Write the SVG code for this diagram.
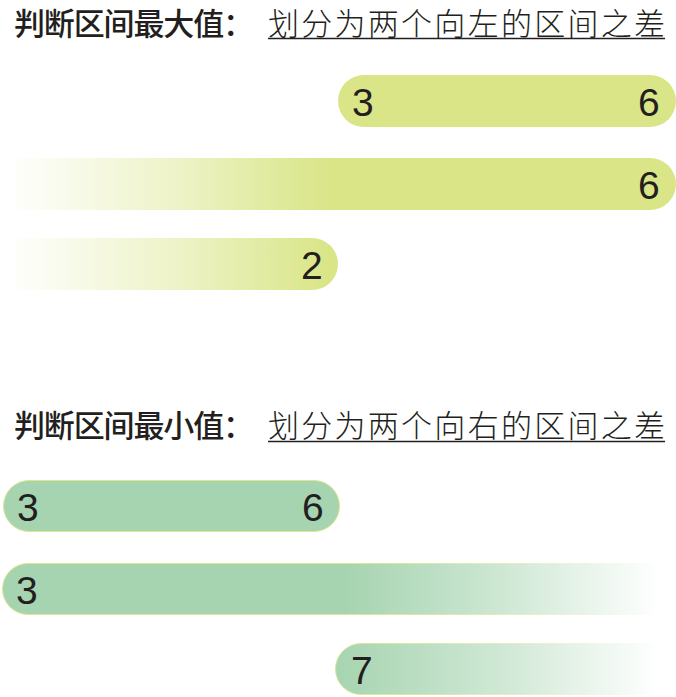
<svg xmlns="http://www.w3.org/2000/svg" width="676" height="697" viewBox="0 0 676 697">
<style>
.t1{font-family:"Noto Sans CJK SC","Liberation Sans",sans-serif;font-size:31px;fill:#231f20;font-weight:500}
.t2{font-family:"Noto Sans CJK SC","Liberation Sans",sans-serif;font-size:31px;fill:#231f20;font-weight:300}
.num{font-family:"Liberation Sans",Arial,sans-serif;font-size:39px;fill:#231f20}
.ul{stroke:#231f20;stroke-width:1.5}
</style>
<defs>
<linearGradient id="gy" gradientUnits="userSpaceOnUse" x1="15" y1="0" x2="330" y2="0">
<stop offset="0" stop-color="#d9e587" stop-opacity="0.03"/>
<stop offset="0.5" stop-color="#d9e587" stop-opacity="0.45"/>
<stop offset="1" stop-color="#d9e587" stop-opacity="1"/>
</linearGradient>
<linearGradient id="gg5" gradientUnits="userSpaceOnUse" x1="345" y1="0" x2="660" y2="0">
<stop offset="0" stop-color="#a6d4b0" stop-opacity="1"/>
<stop offset="0.5" stop-color="#a6d4b0" stop-opacity="0.55"/>
<stop offset="1" stop-color="#a6d4b0" stop-opacity="0"/>
</linearGradient>
<linearGradient id="gs5" gradientUnits="userSpaceOnUse" x1="345" y1="0" x2="660" y2="0">
<stop offset="0" stop-color="#dfe68e" stop-opacity="1"/>
<stop offset="1" stop-color="#dfe68e" stop-opacity="0"/>
</linearGradient>
<linearGradient id="gg6" gradientUnits="userSpaceOnUse" x1="335" y1="0" x2="660" y2="0">
<stop offset="0" stop-color="#a6d4b0" stop-opacity="1"/>
<stop offset="0.5" stop-color="#a6d4b0" stop-opacity="0.55"/>
<stop offset="1" stop-color="#a6d4b0" stop-opacity="0"/>
</linearGradient>
<linearGradient id="gs6" gradientUnits="userSpaceOnUse" x1="335" y1="0" x2="660" y2="0">
<stop offset="0" stop-color="#dfe68e" stop-opacity="1"/>
<stop offset="1" stop-color="#dfe68e" stop-opacity="0"/>
</linearGradient>
</defs>

<g id="title-max">
<text class="t1" x="14" y="35" textLength="240" lengthAdjust="spacing">判断区间最大值：</text>
<text class="t2" x="268" y="35" textLength="397" lengthAdjust="spacing">划分为两个向左的区间之差</text>
<line class="ul" x1="268" y1="38.5" x2="665" y2="38.5"/>
</g>

<g id="bar-max-1">
<rect x="338" y="75" width="338" height="52" rx="26" fill="#d9e587"/>
<text class="num" x="352" y="116">3</text>
<text class="num" x="638" y="116">6</text>
</g>
<g id="bar-max-2">
<path d="M15 158 H650 A26 26 0 0 1 650 210 H15 Z" fill="url(#gy)"/>
<text class="num" x="638" y="199">6</text>
</g>
<g id="bar-max-3">
<path d="M15 238 H312 A26 26 0 0 1 312 290 H15 Z" fill="url(#gy)"/>
<text class="num" x="301" y="279">2</text>
</g>

<g id="title-min">
<text class="t1" x="14" y="437" textLength="240" lengthAdjust="spacing">判断区间最小值：</text>
<text class="t2" x="268" y="437" textLength="397" lengthAdjust="spacing">划分为两个向右的区间之差</text>
<line class="ul" x1="268" y1="441.5" x2="665" y2="441.5"/>
</g>

<g id="bar-min-1">
<rect x="3.5" y="480.5" width="336" height="51" rx="25.5" fill="#a6d4b0" stroke="#dfe68e" stroke-width="1"/>
<text class="num" x="17" y="521">3</text>
<text class="num" x="302" y="521">6</text>
</g>
<g id="bar-min-2">
<path d="M28 563.5 H345 V614.5 H28 A25.5 25.5 0 0 1 28 563.5 Z" fill="#a6d4b0"/>
<path d="M345 563.5 H660 V614.5 H345 Z" fill="url(#gg5)"/>
<path d="M345 563.5 H28 A25.5 25.5 0 0 0 28 614.5 H345" fill="none" stroke="#dfe68e" stroke-width="1"/>
<path d="M345 563.5 H660 M345 614.5 H660" fill="none" stroke="url(#gs5)" stroke-width="1"/>
<text class="num" x="16" y="604">3</text>
</g>
<g id="bar-min-3">
<path d="M361 643.5 H660 V694.5 H361 A25.5 25.5 0 0 1 361 643.5 Z" fill="url(#gg6)" stroke="url(#gs6)" stroke-width="1"/>
<text class="num" x="351" y="684">7</text>
</g>
</svg>
